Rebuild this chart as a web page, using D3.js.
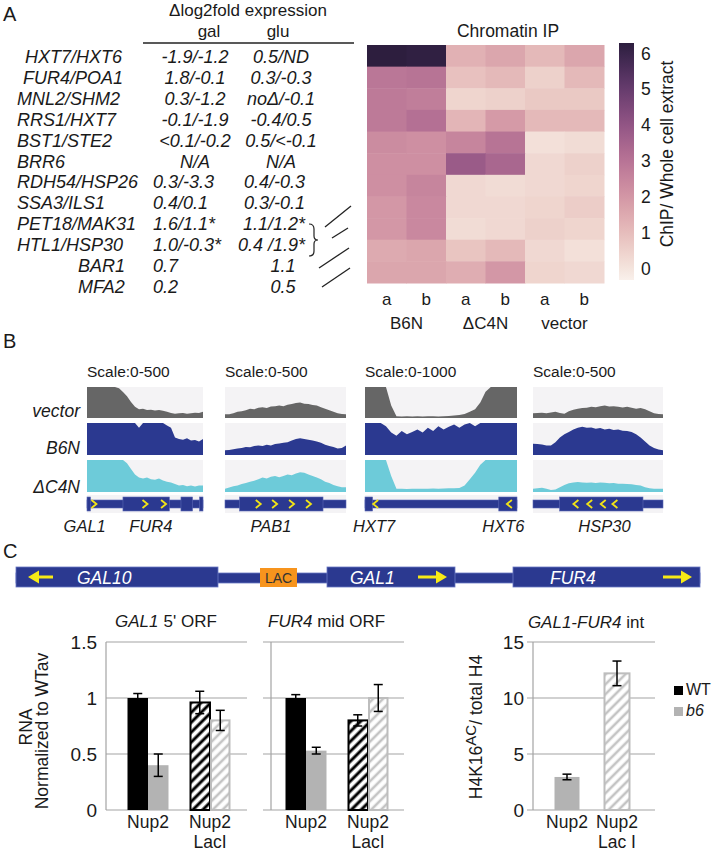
<!DOCTYPE html>
<html><head><meta charset="utf-8">
<script src="https://cdn.jsdelivr.net/npm/d3@7"></script>
<style>
body{margin:0;background:#fff}
svg{display:block}
text{font-family:Arial,"Liberation Sans",Helvetica,sans-serif;fill:#1a1a1a}
</style></head>
<body>
<svg id="fig" width="712" height="857"></svg>
<script>
// ================= DATA =================
// Panel A table
const tableGenes = ["HXT7/HXT6","FUR4/POA1","MNL2/SHM2","RRS1/HXT7","BST1/STE2","BRR6","RDH54/HSP26","SSA3/ILS1","PET18/MAK31","HTL1/HSP30","BAR1","MFA2"];
const galValues = ["-1.9/-1.2","1.8/-0.1","0.3/-1.2","-0.1/-1.9","<0.1/-0.2","N/A","0.3/-3.3","0.4/0.1","1.6/1.1*","1.0/-0.3*","0.7","0.2"];
const gluValues = ["0.5/ND","0.3/-0.3","no\u0394/-0.1","-0.4/0.5","0.5/<-0.1","N/A","0.4/-0.3","0.3/-0.1","1.1/1.2*","0.4 /1.9*","1.1","0.5"];
// Panel A heatmap
const heatRows = ["HXT7/HXT6","FUR4/POA1","MNL2/SHM2","RRS1/HXT7","BST1/STE2","BRR6","RDH54/HSP26","SSA3/ILS1","PET18-HTL1","BAR1","MFA2"];
const heatCols = ["B6N a","B6N b","\u0394C4N a","\u0394C4N b","vector a","vector b"];
const colLetters = ["a","b","a","b","a","b"];
const colGroups = ["B6N","\u0394C4N","vector"];
const heatValues = [
  [6.28,6.2,1.3,1.6,1.1,1.6],
  [2.9,3.0,0.9,1.1,0.5,1.1],
  [2.8,2.7,0.4,0.5,0.7,0.7],
  [2.8,3.1,1.2,1.9,1.1,1.1],
  [2.3,2.2,2.5,3.0,0.1,0.2],
  [2.2,2.2,3.8,3.4,0.3,0.5],
  [2.2,2.5,0.3,0.2,0.3,0.4],
  [2.0,2.4,0.3,0.3,0.4,0.6],
  [2.0,2.4,0.2,0.3,0.5,0.4],
  [1.5,1.6,0.8,1.1,0.3,0.1],
  [1.6,1.6,1.4,2.0,0.4,0.3]
];
const colorDomain = [-0.33, 6.28];
const cbarTicks = [0,1,2,3,4,5,6];

// Panel B coverage tracks (reads)
const loci = ["GAL1-FUR4","PAB1","HXT7-HXT6","HSP30"];
const scaleMax = [500,500,1000,500];
const scaleLabels = ["Scale:0-500","Scale:0-500","Scale:0-1000","Scale:0-500"];
const trackNames = ["vector","B6N","\u0394C4N"];
const covVector = [
  [500,500,500,500,500,500,500,500,480,420,350,260,180,140,150,130,135,120,130,115,100,80,70,75,80,70,75,85,80,100],
  [60,60,75,100,110,125,150,140,165,175,160,185,190,200,190,215,225,240,250,230,225,210,200,175,150,125,100,75,65,60],
  [1000,1000,1000,1000,1000,400,60,50,60,50,55,50,60,55,50,60,65,80,100,130,200,280,500,850,1000,1000,1000,1000,1000,1000],
  [75,80,85,75,90,100,80,70,110,135,150,160,165,180,175,190,200,185,190,180,170,180,165,150,160,140,110,75,65,60]
];
const covB6N = [
  [500,500,500,500,500,500,500,500,500,500,500,500,500,425,500,500,500,500,500,500,460,425,275,250,240,260,225,235,210,250],
  [75,80,90,100,110,125,120,140,150,140,160,150,170,180,190,200,225,250,260,250,240,225,210,190,160,140,125,100,110,150],
  [1000,1000,1000,1000,900,700,600,750,650,720,800,700,850,750,900,800,880,950,850,950,1000,900,1000,1000,1000,1000,1000,1000,1000,1000],
  [175,170,165,150,150,200,275,325,360,400,425,440,425,430,410,420,400,410,390,400,380,375,360,325,275,210,150,110,85,75]
];
const covDC4N = [
  [500,500,500,500,500,500,500,500,500,500,450,360,275,225,210,225,200,190,210,180,160,150,125,100,110,90,100,85,100,100],
  [50,70,90,100,125,140,160,175,200,225,210,240,250,230,250,275,260,290,310,300,275,250,225,200,160,140,110,90,75,75],
  [1000,1000,1000,1000,1000,500,100,100,95,100,105,100,100,110,105,110,115,120,125,200,400,600,850,1000,1000,1000,1000,1000,1000,1000],
  [50,60,65,50,30,40,75,110,135,150,155,150,145,150,140,150,145,135,140,130,130,125,120,110,100,75,60,50,50,50]
];
// gene models, in % of each locus window
const geneExons = [[[0,3],[31,71],[81,91],[97,100]],[[12,81]],[[0,5],[88,100]],[[20.5,84.6]]];
const geneChevrons = [[6,50,66],[27.5,41,55,69],[7,95],[33,43.6,54,63]];
const geneStrand = [1,1,-1,-1];
const geneNames = [["GAL1","FUR4"],["PAB1"],["HXT7","HXT6"],["HSP30"]];
const geneNamePos = [[-2,55],[38],[6,91],[55]];

// Panel C locus (kb)
const regionGenes = ["GAL10","GAL1","FUR4"];
const regionStart = [0, 3.11, 4.97];
const regionEnd = [2.02, 4.39, 6.84];
const regionStrand = [-1, 1, 1];
const regionLength = 6.84;
const lacSite = [2.44, 2.81];

// Panel C bar charts
const barCats = ["Nup2","Nup2 LacI"];
const gal1WT = [1.0, 0.96], gal1WTErr = [0.04, 0.10];
const gal1b6 = [0.40, 0.80], gal1b6Err = [0.10, 0.09];
const fur4WT = [1.0, 0.80], fur4WTErr = [0.03, 0.05];
const fur4b6 = [0.53, 1.0], fur4b6Err = [0.03, 0.12];
const h4Cats = ["Nup2","Nup2 Lac I"];
const h4b6 = [2.95, 12.2], h4b6Err = [0.25, 1.1];
const rnaTicks = [0, 0.5, 1, 1.5];
const rnaTickLabels = ["0","0.5","1","1.5"];
const h4Ticks = [0, 5, 10, 15];
const legendLabels = ["WT","b6"];

// ================= DRAW =================
const svg = d3.select("#fig");
const defs = svg.append("defs");

function txt(g, x, y, s, size, opts = {}) {
  const t = g.append("text").attr("x", x).attr("y", y).attr("font-size", size).text(s);
  if (opts.anchor) t.attr("text-anchor", opts.anchor);
  if (opts.italic) t.attr("font-style", "italic");
  if (opts.fill) t.style("fill", opts.fill);
  if (opts.weight) t.attr("font-weight", opts.weight);
  return t;
}

// --- seaborn cubehelix colormap ---
function snsCubehelix(t) {
  const light = 0.95, dark = 0.15, start = 0, rot = 0.4, hue = 0.8;
  const x = light + (dark - light) * t;
  const a = hue * x * (1 - x) / 2;
  const phi = 2 * Math.PI * (start / 3 + rot * x);
  const f = (p0, p1) => 255 * Math.max(0, Math.min(1, x + a * (p0 * Math.cos(phi) + p1 * Math.sin(phi))));
  return d3.rgb(f(-0.14861, 1.78277), f(-0.29227, -0.90649), f(1.97294, 0)).formatHex();
}
const color = d3.scaleSequential(snsCubehelix).domain(colorDomain);

// ---------- Panel A ----------
const gA = svg.append("g");
txt(gA, 3, 21, "A", 20);
txt(gA, 248, 16, "\u0394log2fold expression", 17, {anchor: "middle"});
txt(gA, 209, 37, "gal", 17, {anchor: "middle"});
txt(gA, 278, 37, "glu", 17, {anchor: "middle"});
gA.append("line").attr("x1", 143).attr("x2", 354).attr("y1", 43).attr("y2", 43).attr("stroke", "#222").attr("stroke-width", 1.4);

const rowY = d3.scaleLinear().domain([0, 11]).range([63, 293]);
tableGenes.forEach((g, i) => {
  const lx = i === 0 ? 25 : i === 1 ? 23 : i >= 10 ? 78 : 17;
  txt(gA, lx, rowY(i), g, 18, {italic: true});
  if (i < 6) txt(gA, 195, rowY(i), galValues[i], 18, {italic: true, anchor: "middle"});
  else txt(gA, 153, rowY(i), galValues[i], 18, {italic: true});
  if (i < 6) txt(gA, 281, rowY(i), gluValues[i], 18, {italic: true, anchor: "middle"});
  else if (i < 10) txt(gA, 305, rowY(i), gluValues[i], 18, {italic: true, anchor: "end"});
  else txt(gA, 283, rowY(i), gluValues[i], 18, {italic: true, anchor: "middle"});
});
// brace joining PET18 / HTL1
gA.append("path")
  .attr("d", "M309,224 q5,0 5,5 v7 q0,4 4,4 q-4,0 -4,4 v7 q0,5 -5,5")
  .attr("fill", "none").attr("stroke", "#222").attr("stroke-width", 1.2);
// connector lines to heatmap rows
[[325,227,351,206],[332,238,348,228],[319,268,349,248],[322,287,350,268]].forEach(l => {
  gA.append("line").attr("x1", l[0]).attr("y1", l[1]).attr("x2", l[2]).attr("y2", l[3])
    .attr("stroke", "#222").attr("stroke-width", 1.3);
});

// heatmap
const hx = d3.scaleBand().domain(heatCols).range([367, 604]);
const hy = d3.scaleBand().domain(heatRows).range([45, 283]);
const gH = svg.append("g");
heatValues.forEach((row, r) => row.forEach((v, c) => {
  gH.append("rect").attr("x", hx(heatCols[c])).attr("y", hy(heatRows[r]))
    .attr("width", hx.bandwidth() + 0.5).attr("height", hy.bandwidth() + 0.5)
    .attr("fill", color(v));
}));
txt(gH, 508, 37, "Chromatin IP", 17.5, {anchor: "middle"});
colLetters.forEach((l, i) => txt(gH, hx(heatCols[i]) + hx.bandwidth() / 2, 305, l, 17, {anchor: "middle"}));
colGroups.forEach((gname, i) => {
  const cx = hx(heatCols[2 * i]) + hx.bandwidth();
  txt(gH, cx, 329, gname, 17, {anchor: "middle"});
});

// colorbar
const cbY = d3.scaleLinear().domain(colorDomain).range([280, 43]);
const grad = defs.append("linearGradient").attr("id", "cbgrad").attr("x1", 0).attr("x2", 0).attr("y1", 1).attr("y2", 0);
d3.range(0, 1.0001, 0.05).forEach(t => grad.append("stop").attr("offset", t).attr("stop-color", snsCubehelix(t)));
gH.append("rect").attr("x", 619).attr("y", 43).attr("width", 15).attr("height", 237).attr("fill", "url(#cbgrad)");
cbarTicks.forEach(v => txt(gH, 641, cbY(v) + 6.5, String(v), 17.5));
txt(gH, 0, 0, "ChIP/ Whole cell extract", 17.5, {anchor: "middle"})
  .attr("transform", "translate(673,154) rotate(-90)");

// ---------- Panel B ----------
const gB = svg.append("g");
txt(gB, 3, 348, "B", 20);
const trackX = [[87, 203], [225, 346], [365, 517], [533, 663]];
const trackY = [[387, 418], [423, 455], [460, 492]];
const trackColors = ["#666666", "#2b3990", "#6dcbd9"];
const covAll = [covVector, covB6N, covDC4N];
trackNames.forEach((n, k) => txt(gB, 80, trackY[k][1] - 1 + (k === 2 ? 2 : 0), n, 17.5, {italic: true, anchor: "end"}));

loci.forEach((loc, i) => {
  const [x0, x1] = trackX[i];
  txt(gB, x0, 377, scaleLabels[i], 15.5);
  const xi = d3.scaleLinear().domain([0, covVector[i].length - 1]).range([x0, x1]);
  covAll.forEach((cov, k) => {
    const [y0, y1] = trackY[k];
    gB.append("rect").attr("x", x0).attr("y", y0).attr("width", x1 - x0).attr("height", y1 - y0).attr("fill", "#f4f3f5");
    const ys = d3.scaleLinear().domain([0, scaleMax[i]]).range([y1, y0]).clamp(true);
    const area = d3.area().x((d, j) => xi(j)).y0(y1).y1(d => ys(d));
    gB.append("path").datum(cov[i]).attr("d", area).attr("fill", trackColors[k]);
  });
  // gene model
  const gx = d3.scaleLinear().domain([0, 100]).range([x0, x1]);
  gB.append("rect").attr("x", x0).attr("y", 495).attr("width", x1 - x0).attr("height", 18).attr("fill", "#f4f3f5");
  gB.append("rect").attr("x", x0).attr("y", 500).attr("width", x1 - x0).attr("height", 8)
    .attr("fill", "#2b3990").attr("stroke", "#5b68b5").attr("stroke-width", 0.6);
  geneExons[i].forEach(e => {
    gB.append("rect").attr("x", gx(e[0])).attr("y", 497).attr("width", gx(e[1]) - gx(e[0])).attr("height", 14)
      .attr("fill", "#2b3990").attr("stroke", "#5b68b5").attr("stroke-width", 0.6);
  });
  geneChevrons[i].forEach(c => {
    const cx = gx(c), s = geneStrand[i];
    gB.append("path").attr("d", `M${cx - 2.5 * s},${500} L${cx + 2.5 * s},${504} L${cx - 2.5 * s},${508}`)
      .attr("fill", "none").attr("stroke", "#f2e417").attr("stroke-width", 1.8);
  });
  geneNames[i].forEach((gn, j) => txt(gB, gx(geneNamePos[i][j]), 532, gn, 16.5, {italic: true, anchor: "middle"}));
});

// ---------- Panel C ----------
const gC = svg.append("g");
txt(gC, 3, 558, "C", 20);
const kb = d3.scaleLinear().domain([0, regionLength]).range([16, 700]);
gC.append("rect").attr("x", kb(0)).attr("y", 573).attr("width", kb(regionLength) - kb(0)).attr("height", 10)
  .attr("fill", "#2b3990").attr("stroke", "#6a78c4").attr("stroke-width", 0.8);
const textOffset = [61, 23, 37];
regionGenes.forEach((gname, i) => {
  const xs = kb(regionStart[i]), xe = kb(regionEnd[i]);
  gC.append("rect").attr("x", xs).attr("y", 567).attr("width", xe - xs).attr("height", 20)
    .attr("fill", "#2b3990").attr("stroke", "#6a78c4").attr("stroke-width", 0.8);
  txt(gC, xs + textOffset[i], 583.5, gname, 17.5, {italic: true, fill: "#ffffff"});
  // arrow
  let tail, tip;
  if (regionStrand[i] < 0) { tip = xs + 12; tail = xs + 37; } else { tip = xe - 8; tail = xe - 37; }
  const dir = regionStrand[i];
  gC.append("line").attr("x1", tail).attr("x2", tip - dir * 8).attr("y1", 577).attr("y2", 577)
    .attr("stroke", "#f7ea16").attr("stroke-width", 3);
  gC.append("path").attr("d", `M${tip},577 L${tip - dir * 11},570.5 L${tip - dir * 11},583.5 Z`).attr("fill", "#f7ea16");
});
gC.append("rect").attr("x", kb(lacSite[0])).attr("y", 568).attr("width", kb(lacSite[1]) - kb(lacSite[0])).attr("height", 19)
  .attr("fill", "#f7941d");
txt(gC, (kb(lacSite[0]) + kb(lacSite[1])) / 2, 583, "LAC", 14, {anchor: "middle", fill: "#333"});

// hatch patterns
function hatch(id, stroke, sw) {
  const p = defs.append("pattern").attr("id", id).attr("patternUnits", "userSpaceOnUse")
    .attr("width", 7).attr("height", 7).attr("patternTransform", "rotate(45)");
  p.append("rect").attr("width", 7).attr("height", 7).attr("fill", "#fff");
  p.append("line").attr("x1", 2).attr("x2", 2).attr("y1", 0).attr("y2", 7).attr("stroke", stroke).attr("stroke-width", sw);
}
hatch("hBlack", "#000", 3);
hatch("hGray", "#c4c4c4", 2.6);

const yR = d3.scaleLinear().domain([0, 1.5]).range([810, 642]);
const gridCol = "#a3a3a3";

function barChart(g, axisX, gridX0, gridX1, bandRange, wt, wtErr, b6, b6Err, titleItalic, titleRest, titleX, showTickLabels) {
  rnaTicks.forEach(t => g.append("line").attr("x1", gridX0).attr("x2", gridX1).attr("y1", yR(t)).attr("y2", yR(t))
    .attr("stroke", gridCol).attr("stroke-width", 1.2));
  g.append("line").attr("x1", axisX).attr("x2", axisX).attr("y1", yR(1.5)).attr("y2", yR(0)).attr("stroke", gridCol).attr("stroke-width", 1.2);
  if (showTickLabels) rnaTicks.forEach((t, i) => txt(g, 97, yR(t) + 7, rnaTickLabels[i], 19, {anchor: "end"}));
  const xb = d3.scaleBand().domain(barCats).range(bandRange);
  const bw = 20.5;
  barCats.forEach((c, i) => {
    const cx = xb(c) + xb.bandwidth() / 2;
    const hatched = i === 1;
    // WT
    g.append("rect").attr("x", cx - bw + (hatched ? 1 : 0)).attr("y", yR(wt[i])).attr("width", bw - (hatched ? 1 : 0)).attr("height", yR(0) - yR(wt[i]))
      .attr("fill", hatched ? "url(#hBlack)" : "#000").attr("stroke", "#000").attr("stroke-width", hatched ? 2 : 0);
    // b6
    g.append("rect").attr("x", cx + (hatched ? 1 : 0)).attr("y", yR(b6[i])).attr("width", bw - (hatched ? 2 : 0)).attr("height", yR(0) - yR(b6[i]))
      .attr("fill", hatched ? "url(#hGray)" : "#b3b3b3").attr("stroke", "#bdbdbd").attr("stroke-width", hatched ? 2 : 0);
    [[cx - bw / 2, wt[i], wtErr[i]], [cx + bw / 2, b6[i], b6Err[i]]].forEach(([ex, v, e]) => {
      g.append("line").attr("x1", ex).attr("x2", ex).attr("y1", yR(v + e)).attr("y2", yR(v - e)).attr("stroke", "#000").attr("stroke-width", 1.5);
      [v + e, v - e].forEach(w => g.append("line").attr("x1", ex - 4.5).attr("x2", ex + 4.5).attr("y1", yR(w)).attr("y2", yR(w)).attr("stroke", "#000").attr("stroke-width", 1.5));
    });
    const parts = c.split(" ");
    parts.forEach((p, j) => txt(g, cx, 828 + j * 20, p, 17.5, {anchor: "middle"}));
  });
  const t = g.append("text").attr("x", titleX).attr("y", 627).attr("font-size", 17);
  t.append("tspan").attr("font-style", "italic").text(titleItalic);
  t.append("tspan").attr("dx", titleRest.startsWith("  ") ? 5 : 0).text(titleRest.startsWith("  ") ? titleRest.trim() : titleRest);
}
barChart(gC, 106, 106, 247, [117, 241], gal1WT, gal1WTErr, gal1b6, gal1b6Err, "GAL1", "  5' ORF", 115, true);
barChart(gC, 271, 263, 404, [275, 399], fur4WT, fur4WTErr, fur4b6, fur4b6Err, "FUR4", " mid ORF", 268, false);

// Y labels chart 1
txt(gC, 0, 0, "RNA", 17.5, {anchor: "middle"}).attr("transform", "translate(32,727) rotate(-90)");
txt(gC, 0, 0, "Normalized to WTav", 17.5, {anchor: "middle"}).attr("transform", "translate(48,731) rotate(-90)");

// chart 3
const yH = d3.scaleLinear().domain([0, 15]).range([810, 642]);
h4Ticks.forEach(t => {
  gC.append("line").attr("x1", 527).attr("x2", 655).attr("y1", yH(t)).attr("y2", yH(t)).attr("stroke", gridCol).attr("stroke-width", 1.2);
  txt(gC, 524, yH(t) + 7, String(t), 19, {anchor: "end"});
});
gC.append("line").attr("x1", 533).attr("x2", 533).attr("y1", yH(15)).attr("y2", yH(0)).attr("stroke", gridCol).attr("stroke-width", 1.2);
const xh = d3.scaleBand().domain(h4Cats).range([542, 642]);
const hbw = 25;
h4Cats.forEach((c, i) => {
  const cx = xh(c) + xh.bandwidth() / 2;
  const hatched = i === 1;
  gC.append("rect").attr("x", cx - hbw / 2).attr("y", yH(h4b6[i])).attr("width", hbw).attr("height", yH(0) - yH(h4b6[i]))
    .attr("fill", hatched ? "url(#hGray)" : "#b3b3b3").attr("stroke", "#bdbdbd").attr("stroke-width", hatched ? 2 : 0);
  const v = h4b6[i], e = h4b6Err[i];
  gC.append("line").attr("x1", cx).attr("x2", cx).attr("y1", yH(v + e)).attr("y2", yH(v - e)).attr("stroke", "#000").attr("stroke-width", 1.5);
  [v + e, v - e].forEach(w => gC.append("line").attr("x1", cx - 4.5).attr("x2", cx + 4.5).attr("y1", yH(w)).attr("y2", yH(w)).attr("stroke", "#000").attr("stroke-width", 1.5));
  const lines = i === 0 ? [c] : [c.slice(0, 4), c.slice(5)];
  lines.forEach((p, j) => txt(gC, cx, 828 + j * 20, p, 17.5, {anchor: "middle"}));
});
{
  const t = gC.append("text").attr("x", 586).attr("y", 628).attr("font-size", 17).attr("text-anchor", "middle");
  t.append("tspan").attr("font-style", "italic").text("GAL1-FUR4");
  t.append("tspan").text(" int");
}
{
  const t = gC.append("text").attr("font-size", 17.5).attr("text-anchor", "middle").attr("transform", "translate(482,727) rotate(-90)");
  t.append("tspan").text("H4K16");
  t.append("tspan").attr("dy", -6).attr("font-size", 15).text("AC");
  t.append("tspan").attr("dy", 6).text("/ total H4");
}
// legend
gC.append("rect").attr("x", 674).attr("y", 686).attr("width", 9).attr("height", 9).attr("fill", "#000");
txt(gC, 686, 695, legendLabels[0], 16);
gC.append("rect").attr("x", 674).attr("y", 707).attr("width", 9).attr("height", 9).attr("fill", "#b3b3b3");
txt(gC, 686, 716, legendLabels[1], 16, {italic: true});
</script>
</body></html>
